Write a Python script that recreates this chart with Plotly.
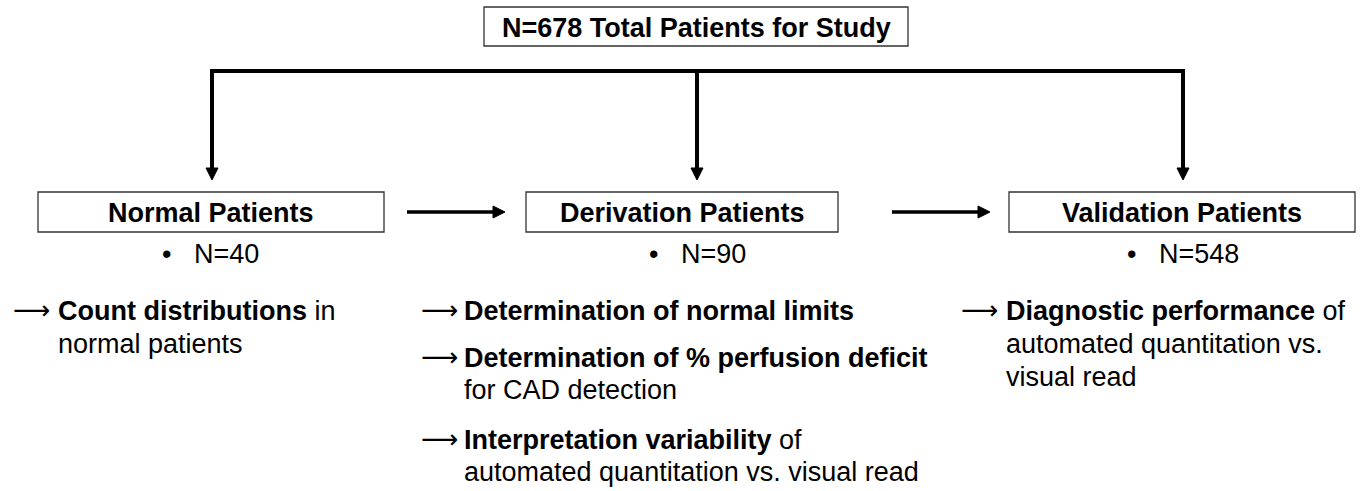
import plotly.graph_objects as go

# ---- content ----
total_label = "N=678 Total Patients for Study"
group_names = ["Normal Patients", "Derivation Patients", "Validation Patients"]
group_counts = [40, 90, 548]
# each description line: (bold part, regular part, starts with arrow)
normal_lines = [("Count distributions", " in", True), ("", "normal patients", False)]
derivation_lines = [
    ("Determination of normal limits", "", True),
    ("Determination of % perfusion deficit", "", True),
    ("", "for CAD detection", False),
    ("Interpretation variability", " of", True),
    ("", "automated quantitation vs. visual read", False),
]
validation_lines = [
    ("Diagnostic performance", " of", True),
    ("", "automated quantitation vs.", False),
    ("", "visual read", False),
]
group_lines = [normal_lines, derivation_lines, validation_lines]

# ---- layout geometry (pixels) ----
W, H = 1367, 491
FONT = "Liberation Sans, Arial, sans-serif"
FS = 27
top_box = (484, 7, 908, 46)
box_x = [(38, 384), (526, 838), (1009, 1355)]
box_y = (192, 232)
bus_y = 71
drop_x = [212, 697, 1183]
drop_tip = 180
count_x = [210, 697, 1183]
count_y = 254
arrow_x = [11, 419, 959]
text_x = [56, 462, 1004]
line_y = [
    [311, 344],
    [311, 358, 390, 440, 472],
    [311, 344, 377],
]
h_arrows = [(407, 505), (892, 990)]
h_arrow_y = 212

shapes = []
annotations = []
LINE = dict(color="black", width=4)
BOX = dict(color="#333333", width=1.3)

def tri_down(x, tip):
    return f"M {x-6},{tip-12} L {x+6},{tip-12} L {x},{tip} Z"

def tri_right(tip, y):
    return f"M {tip-12},{y-6} L {tip-12},{y+6} L {tip},{y} Z"

# top box
shapes.append(dict(type="rect", xref="x", yref="y", x0=top_box[0], y0=top_box[1],
                   x1=top_box[2], y1=top_box[3], line=BOX, fillcolor="white"))
annotations.append(dict(x=(top_box[0] + top_box[2]) / 2, y=(top_box[1] + top_box[3]) / 2 + 1,
                        text=f"<b>{total_label}</b>", showarrow=False,
                        font=dict(family=FONT, size=FS, color="black"),
                        xanchor="center", yanchor="middle"))

# bus line and drops
shapes.append(dict(type="line", xref="x", yref="y", x0=drop_x[0] - 2, x1=drop_x[-1] + 2,
                   y0=bus_y, y1=bus_y, line=LINE))
for dx in drop_x:
    shapes.append(dict(type="line", xref="x", yref="y", x0=dx, x1=dx,
                       y0=bus_y, y1=drop_tip - 10, line=LINE))
    shapes.append(dict(type="path", xref="x", yref="y", path=tri_down(dx, drop_tip),
                       fillcolor="black", line=dict(color="black", width=1)))

# horizontal arrows between boxes
for (a0, a1) in h_arrows:
    shapes.append(dict(type="line", xref="x", yref="y", x0=a0, x1=a1 - 10,
                       y0=h_arrow_y, y1=h_arrow_y, line=dict(color="black", width=3.5)))
    shapes.append(dict(type="path", xref="x", yref="y", path=tri_right(a1, h_arrow_y),
                       fillcolor="black", line=dict(color="black", width=1)))

# group boxes, counts, descriptions
for i, name in enumerate(group_names):
    x0, x1 = box_x[i]
    shapes.append(dict(type="rect", xref="x", yref="y", x0=x0, y0=box_y[0], x1=x1, y1=box_y[1],
                       line=BOX, fillcolor="white"))
    annotations.append(dict(x=(x0 + x1) / 2, y=(box_y[0] + box_y[1]) / 2 + 1,
                            text=f"<b>{name}</b>", showarrow=False,
                            font=dict(family=FONT, size=FS, color="black"),
                            xanchor="center", yanchor="middle"))
    annotations.append(dict(x=count_x[i], y=count_y,
                            text=f"•   N={group_counts[i]}", showarrow=False,
                            font=dict(family=FONT, size=FS, color="black"),
                            xanchor="center", yanchor="middle"))
    for j, (bold, rest, arrow) in enumerate(group_lines[i]):
        y = line_y[i][j]
        if arrow:
            annotations.append(dict(x=arrow_x[i], y=y - 1, text="⟶", showarrow=False,
                                    font=dict(family="DejaVu Sans", size=26, color="black"),
                                    xanchor="left", yanchor="middle"))
        txt = (f"<b>{bold}</b>" if bold else "") + rest
        annotations.append(dict(x=text_x[i], y=y, text=txt, showarrow=False,
                                font=dict(family=FONT, size=FS, color="black"),
                                xanchor="left", yanchor="middle"))

fig = go.Figure()
fig.update_layout(
    width=W, height=H,
    margin=dict(l=0, r=0, t=0, b=0),
    paper_bgcolor="white", plot_bgcolor="white",
    xaxis=dict(range=[0, W], visible=False, fixedrange=True),
    yaxis=dict(range=[H, 0], visible=False, fixedrange=True),
    shapes=shapes, annotations=annotations, showlegend=False,
)
fig.write_html("out.html", config={"displayModeBar": False},
               post_script="document.body.style.margin='0px';document.body.style.overflow='hidden';")
